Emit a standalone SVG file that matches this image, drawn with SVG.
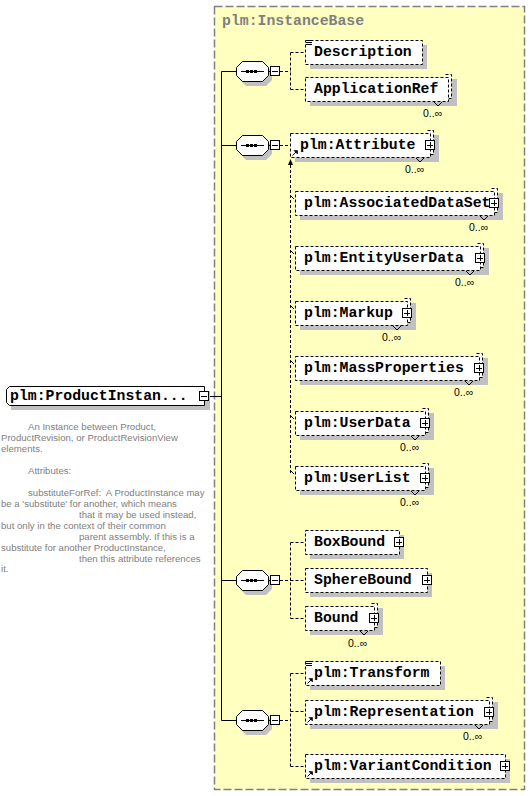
<svg xmlns="http://www.w3.org/2000/svg" xmlns:xlink="http://www.w3.org/1999/xlink" width="530" height="796" viewBox="0 0 530 796">
<style>
.sh{fill:#c0c0c0}
.bx{fill:#fff;stroke:#000;stroke-dasharray:3,2}
.bk{fill:#fff;stroke:#000;stroke-dasharray:3,2}
.lb{font-family:"Liberation Mono",monospace;font-weight:bold;font-size:14.8px;fill:#000}
.oc{font-family:"Liberation Sans",sans-serif;font-size:10.5px;fill:#000}
.ds{font-family:"Liberation Sans",sans-serif;font-size:9.6px;fill:#808080;white-space:pre}
.ln{fill:none;stroke:#000}
.dl{fill:none;stroke:#000;stroke-dasharray:3,2}
.nt{fill:none;stroke:#000}
</style>
<defs>
<g id="plus"><rect x="0.5" y="0.5" width="9" height="9" fill="#fff" stroke="#000"/><path d="M2 5.5H8M5.5 2V8" stroke="#000"/></g>
<g id="minus"><rect x="0.5" y="0.5" width="9" height="9" fill="#fff" stroke="#000"/><path d="M2 5.5H8" stroke="#000"/></g>
<g id="seq">
<path d="M10 5H30L36 11V19L30 25H10L4 19V11Z" fill="#c0c0c0"/>
<path d="M6.5 0.5H26.5L32.5 6.5V14.5L26.5 20.5H6.5L0.5 14.5V6.5Z" fill="#fff" stroke="#000"/>
<path d="M5 10.5H28" stroke="#000"/>
<rect x="10" y="9" width="3" height="3"/><rect x="14" y="9" width="3" height="3"/><rect x="18" y="9" width="3" height="3"/>
<path d="M33 10.5H35" stroke="#000"/>
<use xlink:href="#minus" x="34" y="5"/>
</g>
<g id="ann"><rect x="0" y="0" width="6" height="6" fill="#fff"/><path d="M0 0.5H6M0 2.5H6M0 4.5H6" stroke="#000"/></g>
<g id="ref"><path d="M0.5 5.5L4 2" stroke="#000"/><path d="M5.5 0.5V4L2 0.5Z" fill="#000" stroke="#000" stroke-width="0.6"/></g>
</defs>

<rect x="214.5" y="6.5" width="310" height="783" fill="#ffffc0" stroke="#808080" stroke-width="1.5" stroke-dasharray="8,3"/>
<text x="222" y="25" class="lb" style="fill:#808080">plm:InstanceBase</text>

<g id="connectors">
<path class="ln" d="M221.5 71.5V720.5M221.5 71.5H236M221.5 145.5H236M221.5 580.5H236M221.5 720.5H236M209 396.5H221.5"/>
<path class="dl" d="M280 71.5H290.5M290.5 52.5V89.5M290.5 52.5H305M290.5 89.5H305"/>
<path class="dl" d="M280 145.5H290"/>
<path class="dl" d="M290.5 165V473"/>
<path d="M290.5 159L288 165H293Z" fill="#000"/>
<path class="ln" d="M291 196l3 3M291 251l3 3M291 306l3 3M291 361l3 3M291 416l3 3M291 471l3 3"/>
<path class="dl" d="M280 580.5H290.5M290.5 542.5V618.5M290.5 542.5H305M290.5 580.5H305M290.5 618.5H305"/>
<path class="dl" d="M280 720.5H290.5M290.5 673.5V766.5M290.5 673.5H305M290.5 711.5H305M290.5 766.5H305"/>
</g>

<g id="seq1"><use xlink:href="#seq" x="236" y="61"/></g>
<g id="seq2"><use xlink:href="#seq" x="236" y="135"/></g>
<g id="seq3"><use xlink:href="#seq" x="236" y="570"/></g>
<g id="seq4"><use xlink:href="#seq" x="236" y="710"/></g>

<g id="n-productinstance">
<path d="M14 391H210V410H11L11 394Z" class="sh"/>
<path d="M9.5 386.5H204.5V405.5H9.5L6.5 402.5V389.5Z" fill="#fff" stroke="#000"/>
<text x="10" y="400" class="lb">plm:ProductInstan...</text>
<use xlink:href="#minus" x="199" y="391"/>
</g>

<g id="desc-text">
<text class="ds" x="28" y="430">An Instance between Product,</text>
<text class="ds" x="1" y="441">ProductRevision, or ProductRevisionView</text>
<text class="ds" x="1" y="452">elements.</text>
<text class="ds" x="28" y="474">Attributes:</text>
<text class="ds" x="28" y="496">substituteForRef:  A ProductInstance may</text>
<text class="ds" x="1" y="507">be a 'substitute' for another, which means</text>
<text class="ds" x="79" y="518">that it may be used instead,</text>
<text class="ds" x="1" y="529">but only in the context of their common</text>
<text class="ds" x="79" y="540">parent assembly. If this is a</text>
<text class="ds" x="1" y="551">substitute for another ProductInstance,</text>
<text class="ds" x="79" y="562">then this attribute references</text>
<text class="ds" x="1" y="572">it.</text>
</g>

<g id="n-description">
<rect class="sh" x="310" y="45" width="117" height="24"/>
<rect class="bx" x="305.5" y="40.5" width="117" height="24"/>
<text class="lb" x="314" y="56">Description</text>
<use xlink:href="#ann" x="306" y="40"/>
</g>

<g id="n-applicationref">
<rect class="sh" x="310" y="79" width="147" height="27"/>
<path class="bk" d="M445.5 74.5H451.5V98.5H448.5"/>
<rect class="bx" x="305.5" y="77.5" width="143" height="24"/>
<text class="lb" x="314" y="93">ApplicationRef</text>
<path class="nt" d="M434 102l4 4l4 -4"/>
<text class="oc" x="423" y="117">0..∞</text>
</g>

<g id="n-attribute">
<rect class="sh" x="295" y="135" width="144" height="27"/>
<path class="bk" d="M427.5 130.5H433.5V154.5H430.5"/>
<rect class="bx" x="290.5" y="133.5" width="140" height="24"/>
<text class="lb" x="300" y="149">plm:Attribute</text>
<use xlink:href="#plus" x="425" y="140"/>
<use xlink:href="#ref" x="292" y="150"/>
<path class="nt" d="M416 158l4 4l4 -4"/>
<text class="oc" x="405" y="173">0..∞</text>
</g>

<g id="n-associateddataset">
<rect class="sh" x="300" y="193" width="203" height="27"/>
<path class="bk" d="M491.5 188.5H497.5V212.5H494.5"/>
<rect class="bx" x="295.5" y="191.5" width="199" height="24"/>
<text class="lb" x="304" y="207">plm:AssociatedDataSet</text>
<use xlink:href="#plus" x="489" y="198"/>
<path class="nt" d="M480 216l4 4l4 -4"/>
<text class="oc" x="469" y="231">0..∞</text>
</g>

<g id="n-entityuserdata">
<rect class="sh" x="300" y="248" width="189" height="27"/>
<path class="bk" d="M477.5 243.5H483.5V267.5H480.5"/>
<rect class="bx" x="295.5" y="246.5" width="185" height="24"/>
<text class="lb" x="304" y="262">plm:EntityUserData</text>
<use xlink:href="#plus" x="475" y="253"/>
<path class="nt" d="M466 271l4 4l4 -4"/>
<text class="oc" x="455" y="286">0..∞</text>
</g>

<g id="n-markup">
<rect class="sh" x="300" y="303" width="116" height="27"/>
<path class="bk" d="M404.5 298.5H410.5V322.5H407.5"/>
<rect class="bx" x="295.5" y="301.5" width="112" height="24"/>
<text class="lb" x="304" y="317">plm:Markup</text>
<use xlink:href="#plus" x="402" y="308"/>
<path class="nt" d="M393 326l4 4l4 -4"/>
<text class="oc" x="382" y="341">0..∞</text>
</g>

<g id="n-massproperties">
<rect class="sh" x="300" y="358" width="188" height="27"/>
<path class="bk" d="M476.5 353.5H482.5V377.5H479.5"/>
<rect class="bx" x="295.5" y="356.5" width="184" height="24"/>
<text class="lb" x="304" y="372">plm:MassProperties</text>
<use xlink:href="#plus" x="474" y="363"/>
<path class="nt" d="M465 381l4 4l4 -4"/>
<text class="oc" x="454" y="396">0..∞</text>
</g>

<g id="n-userdata">
<rect class="sh" x="300" y="413" width="134" height="27"/>
<path class="bk" d="M422.5 408.5H428.5V432.5H425.5"/>
<rect class="bx" x="295.5" y="411.5" width="130" height="24"/>
<text class="lb" x="304" y="427">plm:UserData</text>
<use xlink:href="#plus" x="420" y="418"/>
<path class="nt" d="M411 436l4 4l4 -4"/>
<text class="oc" x="400" y="451">0..∞</text>
</g>

<g id="n-userlist">
<rect class="sh" x="300" y="468" width="134" height="27"/>
<path class="bk" d="M422.5 463.5H428.5V487.5H425.5"/>
<rect class="bx" x="295.5" y="466.5" width="130" height="24"/>
<text class="lb" x="304" y="482">plm:UserList</text>
<use xlink:href="#plus" x="420" y="473"/>
<path class="nt" d="M411 491l4 4l4 -4"/>
<text class="oc" x="400" y="506">0..∞</text>
</g>

<g id="n-boxbound">
<rect class="sh" x="310" y="535" width="94" height="24"/>
<rect class="bx" x="305.5" y="530.5" width="94" height="24"/>
<text class="lb" x="314" y="546">BoxBound</text>
<use xlink:href="#plus" x="394" y="537"/>
</g>

<g id="n-spherebound">
<rect class="sh" x="310" y="573" width="122" height="24"/>
<rect class="bx" x="305.5" y="568.5" width="122" height="24"/>
<text class="lb" x="314" y="584">SphereBound</text>
<use xlink:href="#plus" x="422" y="575"/>
</g>

<g id="n-bound">
<rect class="sh" x="310" y="608" width="73" height="27"/>
<path class="bk" d="M371.5 603.5H377.5V627.5H374.5"/>
<rect class="bx" x="305.5" y="606.5" width="69" height="24"/>
<text class="lb" x="314" y="622">Bound</text>
<use xlink:href="#plus" x="369" y="613"/>
<path class="nt" d="M360 631l4 4l4 -4"/>
<text class="oc" x="348" y="647">0..∞</text>
</g>

<g id="n-transform">
<rect class="sh" x="310" y="666" width="135" height="24"/>
<rect class="bx" x="305.5" y="661.5" width="135" height="24"/>
<text class="lb" x="314" y="677">plm:Transform</text>
<use xlink:href="#ann" x="306" y="661"/>
<use xlink:href="#ref" x="307" y="678"/>
</g>

<g id="n-representation">
<rect class="sh" x="310" y="702" width="188" height="27"/>
<path class="bk" d="M486.5 697.5H492.5V721.5H489.5"/>
<rect class="bx" x="305.5" y="700.5" width="184" height="24"/>
<text class="lb" x="314" y="716">plm:Representation</text>
<use xlink:href="#plus" x="484" y="707"/>
<use xlink:href="#ref" x="307" y="717"/>
<path class="nt" d="M475 725l4 4l4 -4"/>
<text class="oc" x="463" y="740">0..∞</text>
</g>

<g id="n-variantcondition">
<rect class="sh" x="310" y="759" width="200" height="24"/>
<rect class="bx" x="305.5" y="754.5" width="200" height="24"/>
<text class="lb" x="314" y="770">plm:VariantCondition</text>
<use xlink:href="#plus" x="500" y="761"/>
<use xlink:href="#ref" x="307" y="771"/>
</g>
</svg>
